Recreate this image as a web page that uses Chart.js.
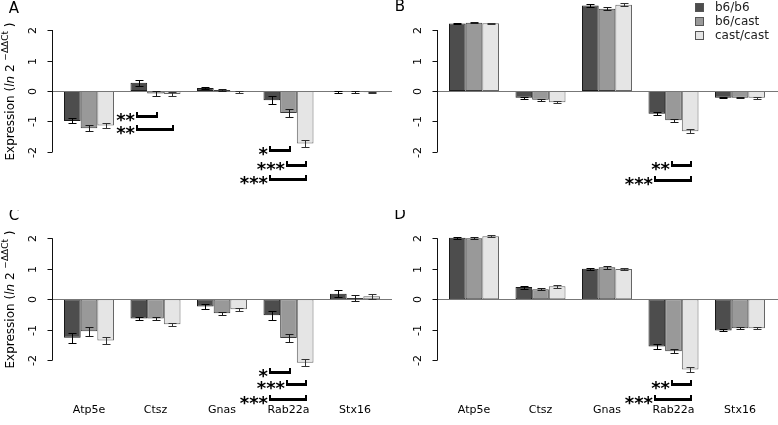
<!DOCTYPE html>
<html><head><meta charset="utf-8">
<script src="https://cdn.jsdelivr.net/npm/chart.js@4/dist/chart.umd.min.js"></script>
<style>
html,body{margin:0;padding:0;background:#fff;width:778px;height:425px;overflow:hidden;}
canvas{position:absolute;display:block;}
</style></head><body>
<canvas id="cA" width="392" height="210" style="left:0;top:0"></canvas>
<canvas id="cB" width="386" height="210" style="left:392px;top:0"></canvas>
<canvas id="cC" width="392" height="215" style="left:0;top:210px"></canvas>
<canvas id="cD" width="386" height="215" style="left:392px;top:210px"></canvas>
<script>
// ---------- data ----------
const categories = ['Atp5e', 'Ctsz', 'Gnas', 'Rab22a', 'Stx16'];
const seriesNames = ['b6/b6', 'b6/cast', 'cast/cast'];
const yTicks = [-2, -1, 0, 1, 2];

// Panel A
const A_b6b6      = [-0.98, 0.27, 0.10, -0.30, -0.03];
const A_b6cast    = [-1.22, -0.08, 0.03, -0.72, -0.03];
const A_castcast  = [-1.13, -0.10, -0.02, -1.72, -0.04];
const A_err_b6b6     = [0.08, 0.09, 0.04, 0.12, 0.02];
const A_err_b6cast   = [0.09, 0.07, 0.02, 0.12, 0.02];
const A_err_castcast = [0.07, 0.08, 0.03, 0.10, 0.02];
const A_sig = [
  {cat: 'Ctsz', from: 0, to: 1, stars: '**', level: -0.82},
  {cat: 'Ctsz', from: 0, to: 2, stars: '**', level: -1.25},
  {cat: 'Rab22a', from: 0, to: 1, stars: '*', level: -1.93},
  {cat: 'Rab22a', from: 1, to: 2, stars: '***', level: -2.43},
  {cat: 'Rab22a', from: 0, to: 2, stars: '***', level: -2.89}
];

// Panel B
const B_b6b6      = [2.21, -0.22, 2.80, -0.75, -0.22];
const B_b6cast    = [2.24, -0.29, 2.70, -0.96, -0.22];
const B_castcast  = [2.22, -0.37, 2.83, -1.32, -0.22];
const B_err_b6b6     = [0.02, 0.03, 0.05, 0.05, 0.02];
const B_err_b6cast   = [0.02, 0.03, 0.05, 0.05, 0.02];
const B_err_castcast = [0.02, 0.03, 0.05, 0.06, 0.03];
const B_sig = [
  {cat: 'Rab22a', from: 1, to: 2, stars: '**', level: -2.43},
  {cat: 'Rab22a', from: 0, to: 2, stars: '***', level: -2.92}
];

// Panel C
const C_b6b6      = [-1.26, -0.63, -0.24, -0.52, 0.18];
const C_b6cast    = [-1.05, -0.63, -0.46, -1.27, 0.04];
const C_castcast  = [-1.35, -0.82, -0.33, -2.08, 0.10];
const C_err_b6b6     = [0.16, 0.06, 0.07, 0.15, 0.11];
const C_err_b6cast   = [0.14, 0.06, 0.05, 0.14, 0.09];
const C_err_castcast = [0.13, 0.05, 0.06, 0.12, 0.09];
const C_sig = [
  {cat: 'Rab22a', from: 0, to: 1, stars: '*', level: -2.37},
  {cat: 'Rab22a', from: 1, to: 2, stars: '***', level: -2.79},
  {cat: 'Rab22a', from: 0, to: 2, stars: '***', level: -3.28}
];

// Panel D
const D_b6b6      = [2.02, 0.40, 1.00, -1.55, -1.02];
const D_b6cast    = [2.00, 0.33, 1.05, -1.70, -0.95];
const D_castcast  = [2.07, 0.43, 0.99, -2.30, -0.95];
const D_err_b6b6     = [0.03, 0.05, 0.04, 0.07, 0.03];
const D_err_b6cast   = [0.03, 0.04, 0.05, 0.06, 0.03];
const D_err_castcast = [0.03, 0.05, 0.03, 0.07, 0.03];
const D_sig = [
  {cat: 'Rab22a', from: 1, to: 2, stars: '**', level: -2.78},
  {cat: 'Rab22a', from: 0, to: 2, stars: '***', level: -3.28}
];

// ---------- styles ----------
const fills = ['#4d4d4d', '#999999', '#e5e5e5'];
const borders = ['#1a1a1a', '#3a3a3a', '#666666'];
const errColors = ['#000000', '#1a1a1a', '#333333'];
const FONT = 'DejaVu Sans';

function hline(ctx, x1, x2, y) { ctx.beginPath(); ctx.moveTo(x1, y); ctx.lineTo(x2, y); ctx.stroke(); }
function vline(ctx, x, y1, y2) { ctx.beginPath(); ctx.moveTo(x, y1); ctx.lineTo(x, y2); ctx.stroke(); }

function decoPlugin(cfg) {
  return {
    id: 'deco',
    afterDatasetsDraw(chart) {
      const ctx = chart.ctx, ys = chart.scales.y, area = chart.chartArea;
      const axisX = Math.round(area.left - 4) + 0.5;
      const y0 = Math.round(ys.getPixelForValue(0)) + 0.5;
      ctx.save();
      // zero line
      ctx.strokeStyle = '#777'; ctx.lineWidth = 1;
      hline(ctx, axisX - 3, chart.width, y0);
      // y axis (R style: only over the tick range)
      ctx.strokeStyle = '#111';
      vline(ctx, axisX, ys.getPixelForValue(yTicks[0]), ys.getPixelForValue(yTicks[yTicks.length - 1]));
      ctx.fillStyle = '#000';
      ctx.font = '11px ' + FONT;
      ctx.textAlign = 'center'; ctx.textBaseline = 'middle';
      yTicks.forEach(t => {
        const py = Math.round(ys.getPixelForValue(t)) + 0.5;
        hline(ctx, axisX - 5, axisX, py);
        ctx.save();
        ctx.translate(axisX - 19, py);
        ctx.rotate(-Math.PI / 2);
        ctx.fillText(String(t), 0, 0);
        ctx.restore();
      });
      // error bars
      ctx.lineWidth = 1;
      chart.data.datasets.forEach((ds, d) => {
        const meta = chart.getDatasetMeta(d);
        ctx.strokeStyle = errColors[d];
        meta.data.forEach((bar, i) => {
          const v = ds.data[i], e = ds.errors[i];
          const x = Math.round(bar.x) + 0.5;
          const pt = Math.round(ys.getPixelForValue(v + e)) + 0.5;
          const pb = Math.round(ys.getPixelForValue(v - e)) + 0.5;
          vline(ctx, x, pt, pb);
          hline(ctx, x - 4, x + 4, pt);
          hline(ctx, x - 4, x + 4, pb);
        });
      });
      // significance brackets
      ctx.strokeStyle = '#000'; ctx.fillStyle = '#000';
      cfg.sig.forEach(s => {
        const ci = categories.indexOf(s.cat);
        const x1 = Math.round(chart.getDatasetMeta(s.from).data[ci].x - 3);
        const x2 = Math.round(chart.getDatasetMeta(s.to).data[ci].x + 2);
        const py = Math.round(ys.getPixelForValue(s.level));
        ctx.lineWidth = 3;
        hline(ctx, x1, x2, py + 0.5);
        ctx.lineWidth = 2;
        vline(ctx, x1 + 1, py - 4, py + 2);
        vline(ctx, x2 - 1, py - 4, py + 2);
        ctx.font = 'bold 18px ' + FONT;
        ctx.textAlign = 'right'; ctx.textBaseline = 'alphabetic';
        ctx.fillText(s.stars, x1 - 1, py + 9.5);
      });
      // y title
      if (cfg.yTitle) {
        const parts = [
          {t: 'Expression (', f: '12px ' + FONT, dy: 0},
          {t: 'ln', f: 'italic 12px ' + FONT, dy: 0},
          {t: ' 2 ', f: '12px ' + FONT, dy: 0},
          {t: '\u2212\u0394\u0394Ct', f: '9px ' + FONT, dy: -5},
          {t: ' )', f: '12px ' + FONT, dy: 0}
        ];
        let total = 0;
        parts.forEach(p => { ctx.font = p.f; p.w = ctx.measureText(p.t).width; total += p.w; });
        ctx.save();
        ctx.translate(11, y0);
        ctx.rotate(-Math.PI / 2);
        ctx.textAlign = 'left'; ctx.textBaseline = 'middle'; ctx.fillStyle = '#000';
        let cx = -total / 2;
        parts.forEach(p => { ctx.font = p.f; ctx.fillText(p.t, cx, p.dy); cx += p.w; });
        ctx.restore();
      }
      // panel letter
      ctx.font = '15px ' + FONT; ctx.fillStyle = '#000';
      ctx.textAlign = 'center'; ctx.textBaseline = 'middle';
      ctx.fillText(cfg.letter, cfg.letterX, cfg.letterY);
      // legend
      if (cfg.legend) {
        const L = cfg.legend;
        ctx.font = '12px ' + FONT; ctx.textAlign = 'left'; ctx.textBaseline = 'middle';
        chart.data.datasets.forEach((ds, d) => {
          const cy = L.y + d * L.dy;
          ctx.fillStyle = ds.backgroundColor;
          ctx.fillRect(L.x, cy - 4.5, 9, 9);
          ctx.strokeStyle = '#555'; ctx.lineWidth = 1;
          ctx.strokeRect(L.x + 0.5, cy - 4.5 + 0.5, 8, 8);
          ctx.fillStyle = '#222';
          ctx.fillText(ds.label, L.tx, cy);
        });
      }
      ctx.restore();
    }
  };
}

function makePanel(id, cfg) {
  const datasets = seriesNames.map((name, s) => ({
    label: name,
    data: cfg.values[s],
    errors: cfg.errors[s],
    backgroundColor: fills[s],
    borderColor: borders[s],
    borderWidth: 1,
    borderSkipped: false,
    categoryPercentage: 0.752,
    barPercentage: 1.0
  }));
  const xScale = {
    display: cfg.showX,
    grid: {display: false, drawTicks: false},
    border: {display: false},
    ticks: {color: '#000', font: {family: FONT, size: 11}, padding: 4, maxRotation: 0}
  };
  if (cfg.showX) xScale.afterFit = s => { s.height = 25; };
  return new Chart(document.getElementById(id), {
    type: 'bar',
    data: {labels: categories, datasets},
    options: {
      responsive: false, animation: false, devicePixelRatio: 1,
      layout: {padding: {left: cfg.padLeft, right: cfg.padRight, top: 0, bottom: 0}},
      scales: {
        x: xScale,
        y: {display: false, min: cfg.yMin, max: cfg.yMax}
      },
      plugins: {legend: {display: false}, tooltip: {enabled: false}}
    },
    plugins: [decoPlugin(cfg)]
  });
}

makePanel('cA', {
  values: [A_b6b6, A_b6cast, A_castcast], errors: [A_err_b6b6, A_err_b6cast, A_err_castcast],
  sig: A_sig, letter: 'A', letterX: 14, letterY: 9, yTitle: true, showX: false,
  padLeft: 55.75, padRight: 3.75, yMin: -3.902, yMax: 2.984
});
makePanel('cB', {
  values: [B_b6b6, B_b6cast, B_castcast], errors: [B_err_b6b6, B_err_b6cast, B_err_castcast],
  sig: B_sig, letter: 'B', letterX: 8, letterY: 7, yTitle: false, showX: false,
  padLeft: 48.75, padRight: 4.75, yMin: -3.902, yMax: 2.984,
  legend: {x: 303, y: 7.5, dy: 14, tx: 323}
});
makePanel('cC', {
  values: [C_b6b6, C_b6cast, C_castcast], errors: [C_err_b6b6, C_err_b6cast, C_err_castcast],
  sig: C_sig, letter: 'C', letterX: 14, letterY: 6, yTitle: true, showX: true,
  padLeft: 55.75, padRight: 3.75, yMin: -3.302, yMax: 2.928
});
makePanel('cD', {
  values: [D_b6b6, D_b6cast, D_castcast], errors: [D_err_b6b6, D_err_b6cast, D_err_castcast],
  sig: D_sig, letter: 'D', letterX: 8, letterY: 5, yTitle: false, showX: true,
  padLeft: 48.75, padRight: 4.75, yMin: -3.302, yMax: 2.928
});
</script>
</body></html>
